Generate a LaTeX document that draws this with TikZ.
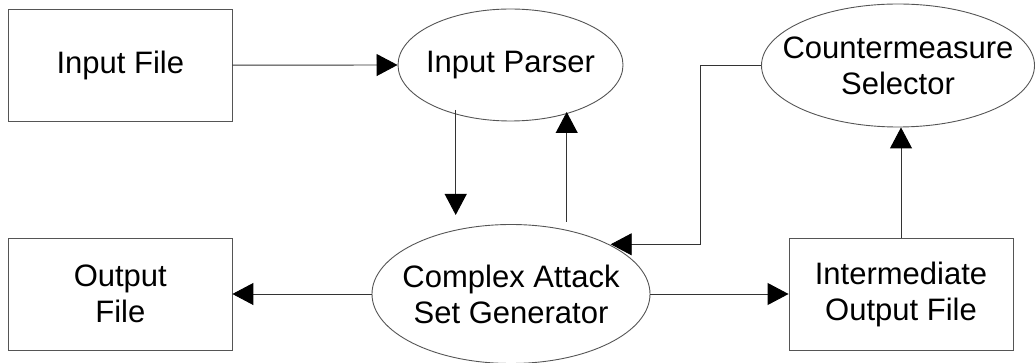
\documentclass[tikz,border=0pt]{standalone}
\usepackage{fontspec}
\setmainfont{Liberation Sans}
\usetikzlibrary{arrows.meta,shapes.geometric}

\definecolor{edge}{RGB}{85,85,85}

\tikzset{
  boxnode/.style={draw=edge, line width=0.9pt, rectangle, inner sep=0pt,
    align=center, font=\fontsize{31}{36}\selectfont},
  ovalnode/.style={draw=edge, line width=0.9pt, ellipse, inner sep=0pt},
  ovaltext/.style={align=center, font=\fontsize{31}{36}\selectfont},
  flow/.style={draw=black!80, line width=0.9pt,
    -{Triangle[length=21pt,width=22pt,fill=black,color=black]}}
}

\begin{document}
\begin{tikzpicture}[x=1pt,y=-1pt]
  \useasboundingbox (0,0) rectangle (1035,363);

  % processing stages and files
  \node[boxnode, minimum width=223.3pt, minimum height=111.7pt]
    (infile) at (120.3,65.2) {Input File};
  \node[ovalnode, minimum width=225pt, minimum height=112pt,
    label={[ovaltext]center:Input Parser}]
    (parser) at (510.5,65) {};
  \node[ovalnode, minimum width=273pt, minimum height=123pt,
    label={[ovaltext]center:Countermeasure\\Selector}]
    (cms) at (898,65.5) {};
  \node[boxnode, minimum width=223.3pt, minimum height=112pt]
    (outfile) at (120.3,294) {Output\\File};
  \node[ovalnode, minimum width=278pt, minimum height=139pt,
    label={[ovaltext]center:Complex Attack\\Set Generator}]
    (cgen) at (511,294) {};
  \node[boxnode, minimum width=224pt, minimum height=112pt]
    (inter) at (901,294) {Intermediate\\Output File};

  % free ends of the connectors
  \coordinate (dtop) at (455.7,110);
  \coordinate (dtip) at (455.7,215);
  \coordinate (ubase) at (566.7,221.7);
  \coordinate (utip) at (566.7,112);
  \coordinate (ebend) at (700.7,244.3);
  \coordinate (etip) at (610.7,244.3);

  % data flow
  \draw[flow] (infile.east) -- (parser.west);
  \draw[flow] (dtop) -- (dtip);
  \draw[flow] (ubase) -- (utip);
  \draw[flow] (cms.west) -| (ebend) -- (etip);
  \draw[flow] (cgen.west) -- (outfile.east);
  \draw[flow] (cgen.east) -- (inter.west);
  \draw[flow] (inter.north) -- (inter.north |- cms.south);
\end{tikzpicture}
\end{document}
